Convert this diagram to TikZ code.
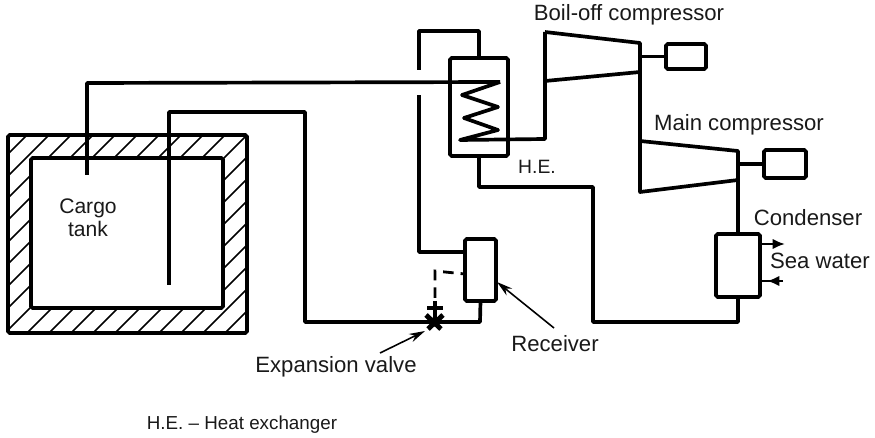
\documentclass[tikz,border=0pt]{standalone}
\usepackage{fontspec}
\setmainfont{Liberation Sans}
\usepackage{xcolor}
\usetikzlibrary{positioning, arrows.meta}

\begin{document}
\begin{tikzpicture}[
    x=0.02cm, y=-0.02cm,
    pipe/.style={line width=2.1pt, line join=round},
    unit/.style={rectangle, draw, line width=2.1pt, rounded corners=1pt, inner sep=0pt, outer sep=0pt},
    hatch/.style={line width=0.9pt},
    pointer/.style={-{Stealth[length=9pt,width=5pt]}, line width=0.9pt},
    flow/.style={line width=1.4pt},
    label/.style={font=\fontsize{12.6pt}{13pt}\selectfont, inner sep=0pt, align=center, text=black!90}
]
\useasboundingbox (0,0) rectangle (875,438);

% cargo tank
\begin{scope}[even odd rule]
\clip (8,135) rectangle (247,333) (31,158) rectangle (223,308);
\foreach \k in {-220,-198,...,242} {
    \draw[hatch] (\k,360) -- ++(360,-360);
}
\end{scope}
\node[unit, minimum width=239*0.02cm, minimum height=198*0.02cm] (tank) at (127.5,234) {};
\node[unit, minimum width=192*0.02cm, minimum height=150*0.02cm] (tankin) at (127,233) {};

% plant items
\node[unit, minimum width=58*0.02cm, minimum height=98*0.02cm] (he) at (479,107) {};
\node[unit, minimum width=31*0.02cm, minimum height=62*0.02cm] (receiver) at (480.5,270) {};
\node[unit, minimum width=44*0.02cm, minimum height=63*0.02cm] (condenser) at (738,265.5) {};
\node[unit, minimum width=40*0.02cm, minimum height=25*0.02cm] (boilmotor) at (686,56.5) {};
\node[unit, minimum width=42*0.02cm, minimum height=28*0.02cm] (mainmotor) at (785,164) {};

% compressors
\coordinate (boilA) at (545,32);
\coordinate (boilB) at (640,43);
\coordinate (boilC) at (640,72);
\coordinate (boilD) at (545,81);
\coordinate (mainA) at (640,141);
\coordinate (mainB) at (738,151);
\coordinate (mainC) at (738,180);
\coordinate (mainD) at (640,192);
\draw[pipe] (boilA) -- (boilB) -- (boilC) -- (boilD);
\draw[pipe] (mainA) -- (mainB) -- (mainC) -- (mainD) -- cycle;
\draw[pipe] (boilB |- boilmotor.west) -- (boilmotor.west);
\draw[pipe] (mainB |- mainmotor.west) -- (mainmotor.west);

% coil
\coordinate (coilin) at (500,82);
\coordinate (coilout) at (460,140);
\draw[pipe] (coilin) -- (462,95) -- (498,107) -- (464,118) -- (498,130) -- (coilout) -- (545,139) -- (boilA);

% pipework
\coordinate (tankout) at (87,175);
\coordinate (tankret) at (169,285);
\coordinate (valve) at (433,322);
\coordinate (gaptop) at (419,70);
\coordinate (gapbot) at (419,95);
\draw[pipe] (tankout) -- (87,83) -- (coilin);
\draw[pipe] (tankret) -- (169,112) -- (305,112) -- (305,322) -- (valve) -- (480,322) -- (receiver.south);
\draw[pipe] (receiver.west |- 0,252) -- (419,252) -- (gapbot);
\draw[pipe] (gaptop) -- (419,31) -- (479,31) -- (he.north);
\draw[pipe] (he.south) -- (479,187) -- (593,187) -- (593,322) -- (738,322) -- (condenser.south);
\draw[pipe] (boilC) -- (mainA);
\draw[pipe] (mainC) -- (condenser.north);

% valve
\draw[line width=1.6pt, dash pattern=on 6pt off 4pt] (435,298) -- (435,271) -- (465,274);
\draw[pipe] (435,301) -- (435,322);
\draw[pipe] (427,308) -- (443,308);
\draw[line width=2.8pt] (426,315) -- (441,329) (443,315) -- (428,329);

% sea water
\draw[flow, -{Latex[length=7pt,width=6pt]}] (condenser.east |- 0,244) -- (785,244);
\draw[flow] (condenser.east |- 0,281) -- (783,281);
\draw[flow, -{Latex[length=7pt,width=6pt]}] (783,281) -- (767,281);

% labels
\node[label] (boillabel) at (629,15) {Boil-off compressor};
\node[label] (mainlabel) at (739,125) {Main compressor};
\node[label] (condlabel) at (808,218) {Condenser};
\node[label] (sealabel) at (820,261) {Sea water};
\node[label, font=\fontsize{11pt}{13pt}\selectfont] (helabel) at (537,167) {H.E.};
\node[label, font=\fontsize{12pt}{13pt}\selectfont] (cargolabel) at (88,218) {Cargo\\tank};
\node[label] (valvelabel) at (336,367) {Expansion valve};
\node[label] (reclabel) at (555,344) {Receiver};
\node[label, font=\fontsize{10.7pt}{13pt}\selectfont] (keylabel) at (242,425) {H.E. -- Heat exchanger};

\coordinate (valvetip) at (425,331);
\coordinate (rectip) at (497,282);
\draw[pointer] (380,353) -- (valvetip);
\draw[pointer] (554,328) -- (rectip);

\end{tikzpicture}
\end{document}
